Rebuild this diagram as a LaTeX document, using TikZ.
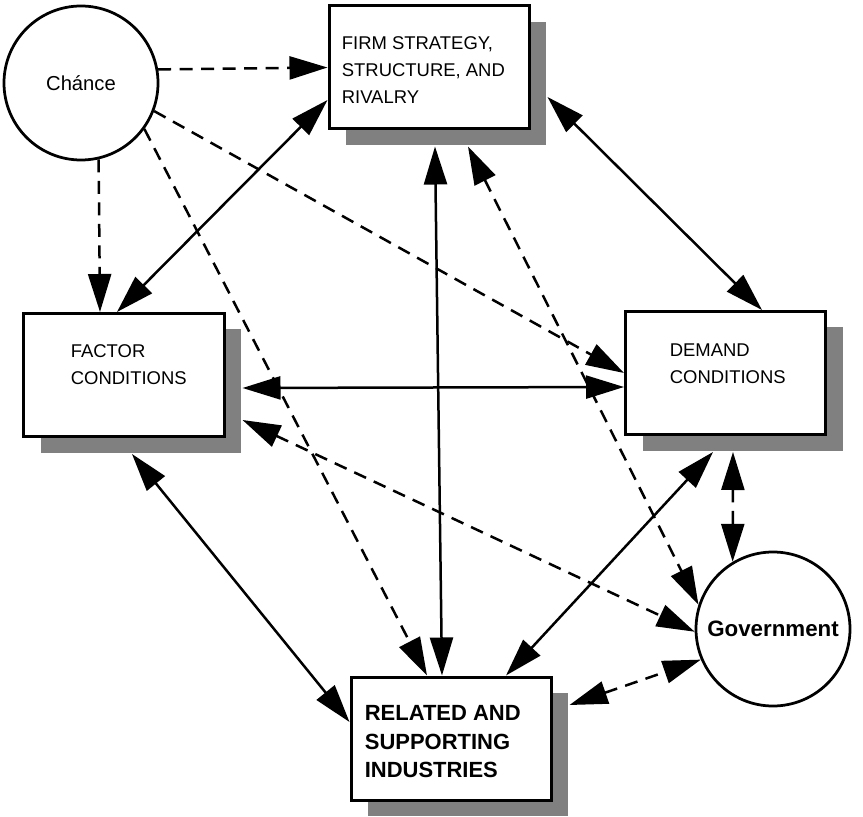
\documentclass[tikz,border=0pt]{standalone}
\usepackage{fontspec}
\setmainfont{Liberation Sans}
\usepackage{tikz}
\usetikzlibrary{arrows.meta, shadows}

\begin{document}
\begin{tikzpicture}[x=0.2mm, y=-0.2mm, <->, >={Triangle[length=7.6mm, width=4.6mm]}]
    \tikzstyle{determinant} = [draw, line width=0.6mm, fill=white, minimum width=40mm, minimum height=24.6mm, drop shadow={shadow xshift=3.4mm, shadow yshift=-3.2mm, fill=black!50, opacity=1}]
    \tikzstyle{force} = [draw, circle, line width=0.55mm, minimum size=30.8mm, inner sep=0]
    \tikzstyle{caption} = [inner sep=0, anchor=west, align=left, font=\fontsize{10.5}{15.4}\selectfont]
    \tikzstyle{link} = [line width=0.5mm]
    \tikzstyle{chancelink} = [line width=0.5mm, dash pattern=on 2.6mm off 1.7mm]
    \useasboundingbox (0,0) rectangle (863,817);

    \node [force, font=\fontsize{11.5}{14}\selectfont] at (81,83) (chance) {Chánce};
    \node [force, font=\fontsize{12.7}{15}\selectfont\bfseries] at (773,629) (government) {Government};

    \node [determinant] at (429,67.5) (firm) {};
    \node [determinant] at (124,375) (factor) {};
    \node [determinant] at (725.5,373) (demand) {};
    \node [determinant] at (451,738.5) (related) {};

    \node [caption] at ([shift={(14,2.5)}]firm.west) (firmtext) {FIRM STRATEGY,\\STRUCTURE, AND\\RIVALRY};
    \node [caption] at ([shift={(48,-10)}]factor.west) (factortext) {FACTOR\\CONDITIONS};
    \node [caption] at ([shift={(45.5,-9.5)}]demand.west) (demandtext) {DEMAND\\CONDITIONS};
    \node [caption, font=\fontsize{12.5}{16.2}\selectfont\bfseries] at ([shift={(15,3.5)}]related.west) (relatedtext) {RELATED AND\\SUPPORTING\\INDUSTRIES};

    \draw [link] ([shift={(0,32.5)}]firm.west) -- ([shift={(-7,0)}]factor.north);
    \draw [link] ([shift={(17,29.5)}]firm.east) -- ([shift={(36.5,0)}]demand.north);
    \draw [link] ([shift={(6,16)}]firm.south) -- ([shift={(-9,0)}]related.north);
    \draw [link] ([shift={(17,13)}]factor.east) -- ([shift={(0,14)}]demand.west);
    \draw [link] ([shift={(8,16)}]factor.south) -- ([shift={(0,-16.5)}]related.west);
    \draw [link] ([shift={(-12.5,16)}]demand.south) -- ([shift={(55,0)}]related.north);

    \draw [chancelink, ->] (chance.10) -- (firm.west);
    \draw [chancelink, ->] (chance.283) -- ([shift={(-24,0)}]factor.north);
    \draw [chancelink, ->] (chance.324) -- ([shift={(-24,0)}]related.north);
    \draw [chancelink, ->] (chance.339) -- (demand.west);
    \draw [chancelink] ([shift={(17,45)}]factor.east) -- (government.182);
    \draw [chancelink] ([shift={(39,16)}]firm.south) -- (government.162);
    \draw [chancelink] ([shift={(7.5,16)}]demand.south) -- (government.121);
    \draw [chancelink] ([shift={(17,-33.5)}]related.east) -- (government.203);
\end{tikzpicture}
\end{document}
